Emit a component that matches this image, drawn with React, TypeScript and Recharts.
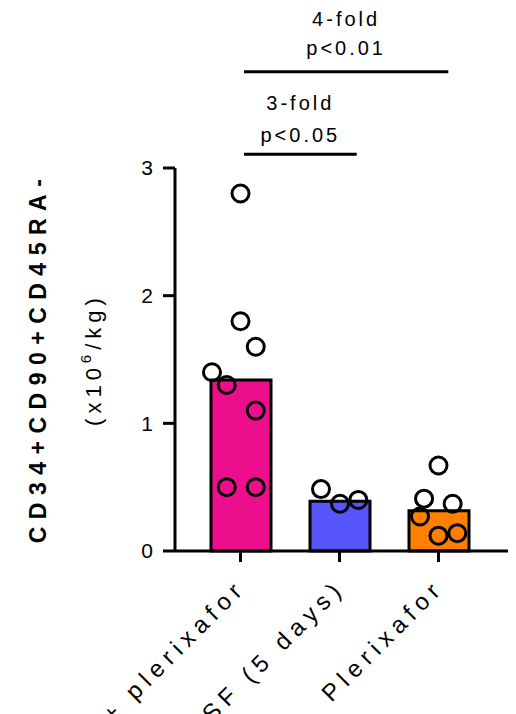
import React from "react";
import {
  ComposedChart,
  Bar,
  Cell,
  Scatter,
  XAxis,
  YAxis,
  ReferenceLine,
} from "recharts";

const categories = ["G-CSF + plerixafor", "G-CSF (5 days)", "Plerixafor"];
const means = [1.34, 0.39, 0.315];
const barColors = ["#EC0E8C", "#5656FA", "#FF8000"];

const pinkValues = [2.8, 1.8, 1.6, 1.4, 1.3, 1.1, 0.5, 0.5];
const pinkJitter = [0, 0, 0.154, -0.288, -0.139, 0.154, -0.139, 0.154];
const blueValues = [0.485, 0.37, 0.4];
const blueJitter = [-0.187, 0.005, 0.19];
const orangeValues = [0.67, 0.41, 0.37, 0.27, 0.12, 0.14];
const orangeJitter = [0, -0.146, 0.143, -0.187, 0, 0.19];

const yTicks = [0, 1, 2, 3];

const comparisons = [
  { from: 0.035, to: 1.174, level: 3.107, fold: "3-fold", p: "p<0.05" },
  { from: 0.035, to: 2.099, level: 3.754, fold: "4-fold", p: "p<0.01" },
];

const barData = categories.map((name, i) => ({ name, mean: means[i] }));
const groups = [
  [pinkValues, pinkJitter],
  [blueValues, blueJitter],
  [orangeValues, orangeJitter],
];
const pointData = groups.flatMap(([vals, jit], gi) =>
  vals.map((v, k) => ({ x: gi + jit[k], y: v }))
);

const FONT = "'Liberation Sans', Arial, sans-serif";

const XTick = (props: any) => {
  const { x, y, payload } = props;
  const ax = x + 7;
  const ay = y + 25;
  return (
    <text
      x={ax}
      y={ay}
      transform={`rotate(-45 ${ax} ${ay})`}
      textAnchor="end"
      fontFamily={FONT}
      fontSize={24}
      letterSpacing={6}
      fill="#000"
    >
      {payload.value}
    </text>
  );
};

const Circle = (props: any) => {
  const { cx, cy } = props;
  return <circle cx={cx} cy={cy} r={8.5} fill="none" stroke="#000" strokeWidth={3} />;
};

const makeLabel = (fold: string, p: string, foldOff: number, pOff: number) => (props: any) => {
  const vb = props.viewBox || {};
  const cx = vb.x + (vb.width || 0) / 2;
  const y = vb.y;
  return (
    <g fontFamily={FONT} fontSize={20} fill="#000">
      <text x={cx} y={y - foldOff} textAnchor="middle" letterSpacing={3}>
        {fold}
      </text>
      <text x={cx} y={y - pOff} textAnchor="middle" letterSpacing={3}>
        {p}
      </text>
    </g>
  );
};

const YLabel = (props: any) => {
  const vb = props.viewBox || {};
  const cy = vb.y + vb.height / 2;
  const x1 = 46;
  const x2 = 101;
  return (
    <g fill="#000" fontFamily={FONT}>
      <text
        x={x1}
        y={cy - 2}
        transform={`rotate(-90 ${x1} ${cy - 2})`}
        textAnchor="middle"
        fontSize={23}
        fontWeight="bold"
        letterSpacing={7.5}
      >
        CD34+CD90+CD45RA-
      </text>
      <text
        x={x2}
        y={cy}
        transform={`rotate(-90 ${x2} ${cy})`}
        textAnchor="middle"
        fontSize={22}
        letterSpacing={5}
      >
        (x10
        <tspan fontSize={15} dy={-10}>
          6
        </tspan>
        <tspan dy={10}>/kg)</tspan>
      </text>
    </g>
  );
};

export default function App() {
  return (
    <div style={{ position: "absolute", left: 0, top: 0, background: "#fff" }}>
      <ComposedChart
        width={516}
        height={714}
        data={barData}
        margin={{ top: 168, right: 8, bottom: 0, left: 0 }}
      >
        <XAxis
          xAxisId="cat"
          dataKey="name"
          type="category"
          padding={{ left: 16, right: 20 }}
          height={163}
          tickSize={11}
          axisLine={{ stroke: "#000", strokeWidth: 3 }}
          tickLine={{ stroke: "#000", strokeWidth: 3 }}
          tick={<XTick />}
          interval={0}
        />
        <XAxis
          xAxisId="num"
          dataKey="x"
          type="number"
          domain={[-0.6616, 2.702]}
          allowDataOverflow
          hide
        />
        <YAxis
          domain={[0, 3]}
          ticks={yTicks}
          width={175}
          tickSize={12}
          tickMargin={10}
          axisLine={{ stroke: "#000", strokeWidth: 3 }}
          tickLine={{ stroke: "#000", strokeWidth: 3 }}
          tick={{ fill: "#000", fontSize: 21, fontFamily: FONT }}
          label={<YLabel />}
        />
        <Bar
          xAxisId="cat"
          dataKey="mean"
          barSize={60}
          stroke="#000"
          strokeWidth={3}
          isAnimationActive={false}
        >
          {barData.map((d, i) => (
            <Cell key={d.name} fill={barColors[i]} />
          ))}
        </Bar>
        <Scatter
          xAxisId="num"
          data={pointData}
          dataKey="y"
          shape={<Circle />}
          isAnimationActive={false}
        />
        {comparisons.map((c, i) => (
          <ReferenceLine
            key={c.fold}
            xAxisId="num"
            ifOverflow="visible"
            segment={[
              { x: c.from, y: c.level },
              { x: c.to, y: c.level },
            ]}
            stroke="#000"
            strokeWidth={3}
            label={makeLabel(c.fold, c.p, i === 0 ? 44 : 46, i === 0 ? 12 : 17)}
          />
        ))}
      </ComposedChart>
    </div>
  );
}
